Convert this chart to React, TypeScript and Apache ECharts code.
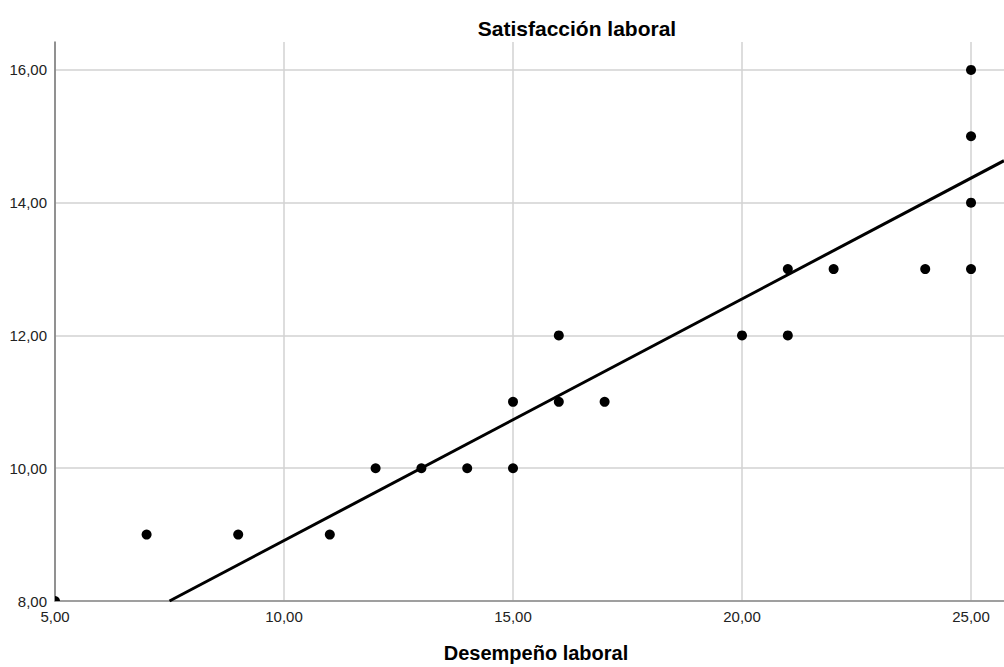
import React, { useEffect, useRef } from "react";
import * as echarts from "echarts";

const desempeno = [5, 7, 9, 11, 12, 13, 14, 15, 15, 16, 16, 17, 20, 21, 21, 22, 24, 25, 25, 25, 25];
const satisfaccion = [8, 9, 9, 9, 10, 10, 10, 10, 11, 11, 12, 11, 12, 12, 13, 13, 13, 13, 14, 15, 16];
const fitIntercept = 5.27;
const fitSlope = 0.364;
const xMin = 5;
const xMax = 25.72;
const yMin = 8;
const yMax = 16.42;
const xTitle = "Desempeño laboral";
const yTitle = "Satisfacción laboral";

const FONT = "'Liberation Sans', Arial, sans-serif";

export default function App() {
  const ref = useRef<HTMLDivElement>(null);
  useEffect(() => {
    if (!ref.current) return;
    const chart = echarts.init(ref.current, null, { renderer: "svg" });
    const points = desempeno.map((x, i) => [x, satisfaccion[i]]);
    const xStart = (yMin - fitIntercept) / fitSlope;
    const fitLine = [
      [xStart, fitIntercept + fitSlope * xStart],
      [xMax, fitIntercept + fitSlope * xMax],
    ];
    const fmtX = (v: number) => (Math.abs(v % 5) < 1e-9 ? v.toFixed(2).replace(".", ",") : "");
    const fmtY = (v: number) => (Math.abs(v % 2) < 1e-9 ? v.toFixed(2).replace(".", ",") : "");
    chart.setOption({
      animation: false,
      textStyle: { fontFamily: FONT },
      grid: { left: 55, right: 0, top: 42, bottom: 66, containLabel: false },
      xAxis: {
        type: "value",
        min: xMin,
        max: xMax,
        interval: 5,
        axisLine: { show: true, onZero: false, lineStyle: { color: "#8a8a8a", width: 1.5 } },
        axisTick: { show: false },
        splitLine: { show: true, showMaxLine: false, lineStyle: { color: "#d2d2d2", width: 1.5 } },
        axisLabel: {
          color: "#222",
          fontSize: 15,
          fontFamily: FONT,
          margin: 8,
          showMaxLabel: false,
          formatter: fmtX,
        },
      },
      yAxis: {
        type: "value",
        min: yMin,
        max: yMax,
        interval: 2,
        axisLine: { show: true, onZero: false, lineStyle: { color: "#777", width: 1.5 } },
        axisTick: { show: false },
        splitLine: { show: true, showMaxLine: false, lineStyle: { color: "#d2d2d2", width: 1.5 } },
        axisLabel: {
          color: "#222",
          fontSize: 15,
          fontFamily: FONT,
          margin: 8,
          showMaxLabel: false,
          formatter: fmtY,
        },
      },
      series: [
        {
          type: "line",
          data: fitLine,
          symbol: "none",
          lineStyle: { color: "#000", width: 3 },
          z: 3,
        },
        {
          type: "custom",
          clip: true,
          z: 4,
          data: points,
          renderItem: (params: any, api: any) => {
            const p = api.coord([api.value(0), api.value(1)]);
            return {
              type: "circle",
              shape: { cx: p[0], cy: p[1], r: 5 },
              style: { fill: "#000" },
            };
          },
        },
      ],
      graphic: [
        {
          type: "text",
          x: 577,
          y: 28,
          style: {
            text: yTitle,
            fontFamily: FONT,
            fontWeight: "bold",
            fontSize: 21,
            fill: "#000",
            textAlign: "center",
            textVerticalAlign: "middle",
          },
        },
        {
          type: "text",
          x: 536,
          y: 653,
          style: {
            text: xTitle,
            fontFamily: FONT,
            fontWeight: "bold",
            fontSize: 20,
            fill: "#000",
            textAlign: "center",
            textVerticalAlign: "middle",
          },
        },
      ],
    });
    return () => chart.dispose();
  }, []);
  return <div ref={ref} style={{ width: 1004, height: 667, position: "absolute", left: 0, top: 0, background: "#fff" }} />;
}
